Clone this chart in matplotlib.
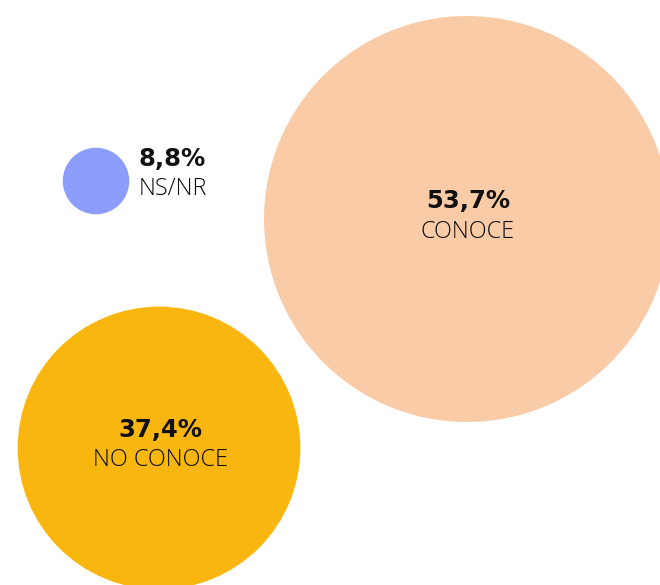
import matplotlib
matplotlib.use("Agg")
import matplotlib.pyplot as plt
from matplotlib.patches import Circle

# Data
categories = ["CONOCE", "NO CONOCE", "NS/NR"]
values = [53.7, 37.4, 8.8]
value_labels = ["53,7%", "37,4%", "8,8%"]

# Layout (pixel coordinates of bubble centres) and styling
centers = [(467, 219), (159, 448), (96, 181)]
colors = ["#F9CBA6", "#F8B60E", "#8C9DFC"]
scale = 3.78  # radius in px per percentage point

fig = plt.figure(figsize=(6.6, 5.85), dpi=100)
ax = fig.add_axes([0, 0, 1, 1])
ax.set_xlim(0, 660)
ax.set_ylim(585, 0)
ax.set_aspect("equal")
ax.axis("off")

pct_kw = dict(fontsize=17.5, fontweight="bold", family="DejaVu Sans", color="#111111")
lab_kw = dict(fontsize=16.8, fontweight="light", family=["Open Sans", "DejaVu Sans"], color="#0a0a0a")

for cat, val, lab, (cx, cy), col in zip(categories, values, value_labels, centers, colors):
    r = val * scale
    ax.add_patch(Circle((cx, cy), r, facecolor=col, edgecolor="none"))
    if r > 60:
        ax.text(cx + 1, cy - 18, lab, ha="center", va="center", **pct_kw)
        ax.text(cx + 1, cy + 12.5, cat, ha="center", va="center", **lab_kw)
    else:
        tx = cx + r + 9
        ax.text(tx, cy - 22, lab, ha="left", va="center", **pct_kw)
        ax.text(tx, cy + 8, cat, ha="left", va="center", **lab_kw)

fig.savefig("out.png", dpi=100)
